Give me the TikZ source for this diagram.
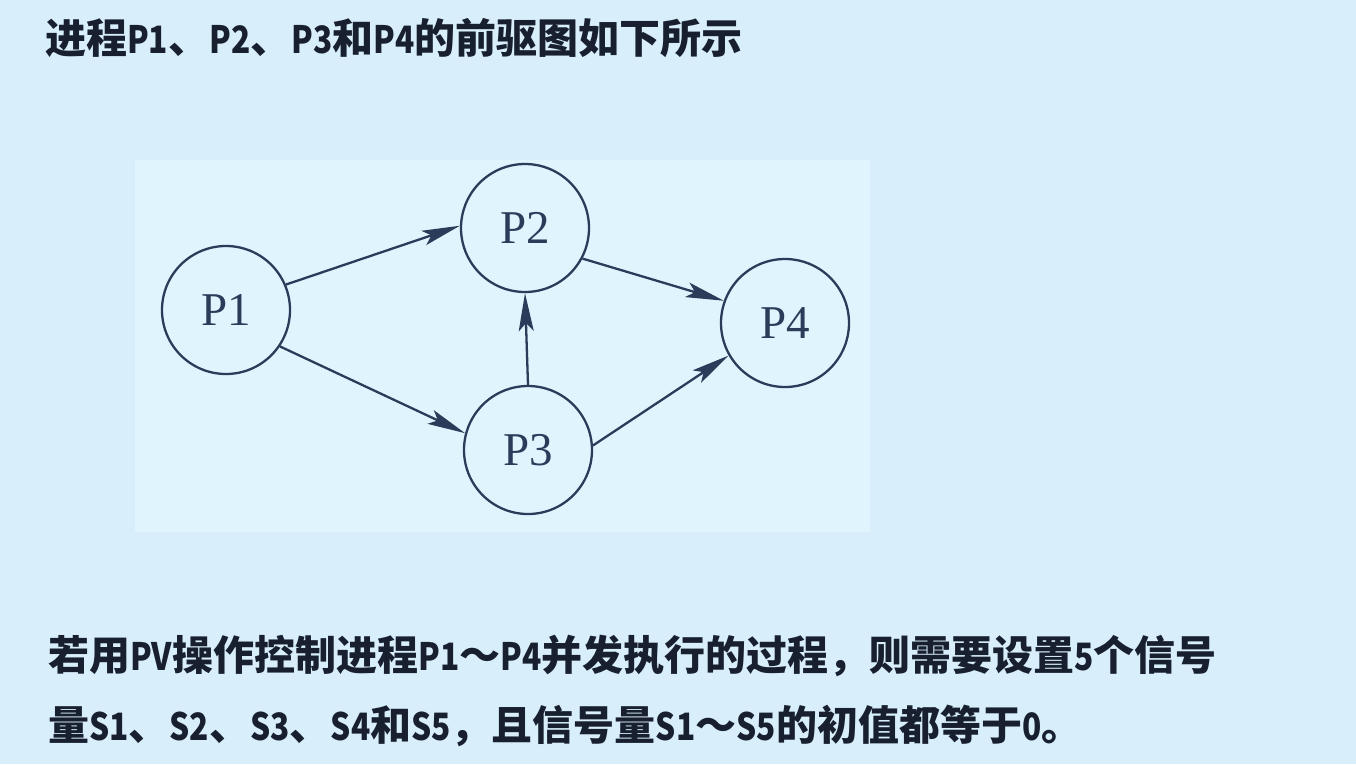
\documentclass[tikz,border=0pt]{standalone}
\usepackage{fontspec}
\setmainfont{Liberation Serif}
\newfontfamily\cjk{Noto Sans CJK SC}
% tall, condensed Latin letters inside the Chinese lines
\newfontfamily\cjklat{Noto Sans CJK SC}[Scale=0.92, FakeStretch=0.84]
\newcommand\lat[1]{{\cjklat\bfseries #1}}
\usetikzlibrary{arrows.meta}
\definecolor{pagebg}{HTML}{D8EEFB}
\definecolor{panelbg}{HTML}{E0F4FD}
\definecolor{ink}{HTML}{2A3C5A}
\definecolor{txt}{HTML}{182030}
\tikzset{
  proc/.style={circle, draw=ink, line width=2.3pt, minimum size=128pt, inner sep=0pt,
    text=ink, font=\fontsize{47}{47}\selectfont},
  link/.style={draw=ink, line width=2.3pt,
    -{Stealth[length=38pt, width=15pt, inset=8pt]}},
  para/.style={anchor=base west, inner sep=0pt, text=txt,
    font=\cjk\bfseries\fontsize{41}{41}\selectfont}
}
\begin{document}
\begin{tikzpicture}[x=1pt, y=-1pt]
  % page and the light panel behind the graph
  \fill[pagebg] (0,0) rectangle (1356,764);
  \useasboundingbox (0,0) rectangle (1356,764);
  \fill[panelbg] (135,160) rectangle (870,532);

  % heading
  \node[para] (head) at (45,53) {进程\lat{P1}、\lat{P2}、\lat{P3}和\lat{P4}的前驱图如下所示};

  % precedence graph
  \node[proc] (p1) at (226,310) {P1};
  \node[proc] (p2) at (525,228) {P2};
  \node[proc] (p3) at (528,450) {P3};
  \node[proc] (p4) at (785,323) {P4};

  \draw[link] (p1.23) -- (p2.178);
  \draw[link] (p1.-34) -- (p3.165);
  \draw[link] (p3.90) -- (p2.-90);
  \draw[link] (p2.-28) -- (p4.160);
  \draw[link] (p3.4) -- (p4.210);

  % question text
  \node[para] (line1) at (48,670) {若用\lat{PV}操作控制进程\lat{P1}～\lat{P4}并发执行的过程，则需要设置\lat{5}个信号};
  \node[para] (line2) at (48,740) {量\lat{S1}、\lat{S2}、\lat{S3}、\lat{S4}和\lat{S5}，且信号量\lat{S1}～\lat{S5}的初值都等于\lat{0}。};
\end{tikzpicture}
\end{document}
